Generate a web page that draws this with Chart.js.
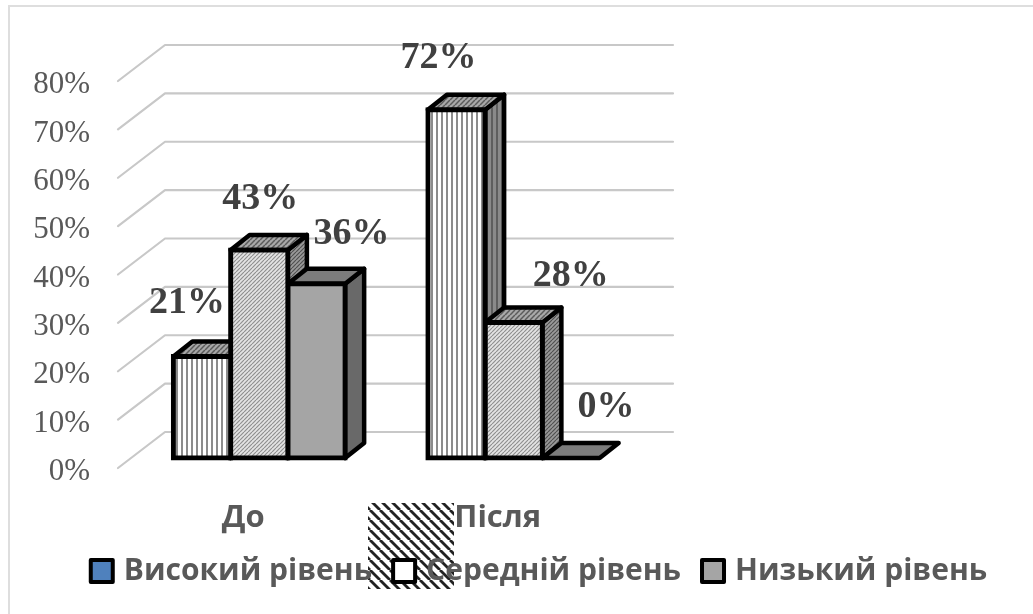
<!DOCTYPE html>
<html lang="uk">
<head>
<meta charset="utf-8">
<title>Рівні до і після</title>
<script src="https://cdn.jsdelivr.net/npm/chart.js@4/dist/chart.umd.js"></script>
<style>
  html, body { margin: 0; padding: 0; background: #fff; }
  #wrap { width: 1033px; height: 614px; }
</style>
</head>
<body>
<div id="wrap"><canvas id="chart" width="1033" height="614"></canvas></div>
<script>
// Chart values
const categories = ['До', 'Після'];
const seriesNames = ['Високий рівень', 'Середній рівень', 'Низький рівень'];
const highValues = [21, 72];
const middleValues = [43, 28];
const lowValues = [36, 0];
const swatchColors = ['#4f81bd', '#ffffff', '#a5a5a5'];

// Small repeating tiles used as bar fills
function tile(w, h, paint) {
  const c = document.createElement('canvas');
  c.width = w; c.height = h;
  paint(c.getContext('2d'), w, h);
  return c.getContext('2d').createPattern(c, 'repeat');
}
function verticalStripes(bg, ink) {
  return tile(5, 5, (g, w, h) => {
    g.fillStyle = bg; g.fillRect(0, 0, w, h);
    g.fillStyle = ink; g.fillRect(1, 0, 2, h);
  });
}
function slantStripes(bg, ink, size, width, down) {
  return tile(size, size, (g, w, h) => {
    g.fillStyle = bg; g.fillRect(0, 0, w, h);
    g.strokeStyle = ink; g.lineWidth = width;
    for (let i = -w; i <= 2 * w; i += w) {
      g.beginPath();
      if (down) { g.moveTo(i, 0); g.lineTo(i + h, h); }
      else { g.moveTo(i + h, 0); g.lineTo(i, h); }
      g.stroke();
    }
  });
}

const frontFills = [
  verticalStripes('#ffffff', '#8c8c8c'),
  slantStripes('#e4e4e4', '#8f8f8f', 4, 1.2, false),
  '#a5a5a5'
];
const sideFills = [
  verticalStripes('#8a8a8a', '#5e5e5e'),
  slantStripes('#9a9a9a', '#505050', 4, 1.2, false),
  '#696969'
];
const topFills = [
  slantStripes('#a8a8a8', '#5a5a5a', 5, 1.5, false),
  slantStripes('#a8a8a8', '#5a5a5a', 5, 1.5, false),
  '#7c7c7c'
];

const depth = { dx: 19, dy: 15 };
const wall = { left: 118, back: 165, right: 673, rise: 26, drop: 10 };
// Value label displacement from the top centre of each bar, per series and category
const labelShift = [
  [[-15, -53], [-18, -52]],
  [[1, -51], [57, -46]],
  [[35, -50], [35, -51]]
];

const depthPlugin = {
  id: 'depthPlugin',
  beforeDraw(chart) {
    const { ctx, scales: { y } } = chart;
    ctx.save();
    // Panel edge
    ctx.fillStyle = '#dedede';
    ctx.fillRect(8, 5, 1025, 2);
    ctx.fillRect(8, 5, 2, 609);

    // Large hatched tile behind the legend
    ctx.fillStyle = slantStripes('#ffffff', '#222222', 10, 2.8, true);
    ctx.fillRect(368, 503, 86, 86);

    // Back wall grid lines with their floor returns
    ctx.strokeStyle = '#c8c8c8';
    ctx.lineWidth = 2.2;
    ctx.lineCap = 'round';
    ctx.lineJoin = 'round';
    y.ticks.forEach(t => {
      const p = y.getPixelForValue(t.value);
      ctx.beginPath();
      ctx.moveTo(wall.left, p + wall.drop);
      ctx.lineTo(wall.back, p - wall.rise);
      ctx.lineTo(wall.right, p - wall.rise);
      ctx.stroke();
    });
    ctx.restore();
  },
  beforeDatasetsDraw(chart) {
    const { ctx } = chart;
    ctx.save();
    ctx.strokeStyle = '#000';
    ctx.lineWidth = 4.5;
    ctx.lineJoin = 'round';
    // Side and top faces are painted left to right so nearer bars cover farther ones
    const n = chart.data.labels.length;
    for (let c = 0; c < n; c++) {
      chart.data.datasets.forEach((ds, d) => {
        const bar = chart.getDatasetMeta(d).data[c];
        const x1 = bar.x + bar.width / 2;
        const x0 = bar.x - bar.width / 2;
        const top = bar.y, base = bar.base;
        if (base - top > 0) {
          ctx.beginPath();
          ctx.moveTo(x1, top);
          ctx.lineTo(x1 + depth.dx, top - depth.dy);
          ctx.lineTo(x1 + depth.dx, base - depth.dy);
          ctx.lineTo(x1, base);
          ctx.closePath();
          ctx.fillStyle = sideFills[d];
          ctx.fill();
          ctx.stroke();
        }
        ctx.beginPath();
        ctx.moveTo(x0, top);
        ctx.lineTo(x0 + depth.dx, top - depth.dy);
        ctx.lineTo(x1 + depth.dx, top - depth.dy);
        ctx.lineTo(x1, top);
        ctx.closePath();
        ctx.fillStyle = topFills[d];
        ctx.fill();
        ctx.stroke();
      });
    }
    ctx.restore();
  },
  afterDatasetsDraw(chart) {
    const { ctx } = chart;
    ctx.save();
    ctx.font = 'bold 38px "Liberation Serif"';
    ctx.fillStyle = '#404040';
    ctx.textAlign = 'center';
    ctx.textBaseline = 'middle';
    chart.data.datasets.forEach((ds, d) => {
      chart.getDatasetMeta(d).data.forEach((bar, c) => {
        const [sx, sy] = labelShift[d][c];
        ctx.fillText(ds.data[c] + '%', bar.x + sx, bar.y + sy);
      });
    });
    ctx.restore();
  },
  afterDraw(chart) {
    // Legend swatches, wider than the gap the legend leaves before its text
    const { ctx, legend } = chart;
    ctx.save();
    ctx.lineWidth = 4;
    ctx.strokeStyle = '#000';
    ctx.lineJoin = 'round';
    legend.legendHitBoxes.forEach((h, i) => {
      const top = h.top + h.height / 2 - 11;
      ctx.fillStyle = swatchColors[i];
      ctx.beginPath();
      ctx.rect(h.left - 1, top, 22, 22);
      ctx.fill();
      ctx.stroke();
    });
    ctx.restore();
  }
};

// The legend row sits right of the panel centre
const legendShift = {
  id: 'legendShift',
  afterLayout(chart) {
    chart.legend.left += 23;
    chart.legend.right += 23;
  }
};

const allValues = [highValues, middleValues, lowValues];
new Chart(document.getElementById('chart'), {
  type: 'bar',
  data: {
    labels: categories,
    datasets: seriesNames.map((name, i) => ({
      label: name,
      data: allValues[i],
      backgroundColor: frontFills[i],
      borderColor: '#000000',
      borderWidth: 5,
      borderSkipped: false,
      inflateAmount: 2.5,
      clip: false,
      categoryPercentage: 0.675,
      barPercentage: 1
    }))
  },
  options: {
    responsive: false,
    animation: false,
    layout: { padding: { top: 71, bottom: 18, left: 0, right: 0 } },
    plugins: {
      tooltip: { enabled: false },
      legend: {
        position: 'bottom',
        labels: {
          boxWidth: 17,
          boxHeight: 17,
          padding: 22,
          color: '#595959',
          font: { family: '"Open Sans"', weight: 'bold', size: 30 },
          generateLabels(chart) {
            return chart.data.datasets.map((ds, i) => ({
              text: ds.label,
              fillStyle: 'rgba(0,0,0,0)',
              strokeStyle: 'rgba(0,0,0,0)',
              lineWidth: 0,
              fontColor: '#595959',
              datasetIndex: i
            }));
          }
        }
      }
    },
    scales: {
      x: {
        grid: { display: false, drawTicks: false },
        border: { display: false },
        ticks: {
          color: '#595959',
          labelOffset: -16,
          padding: 42,
          maxRotation: 0,
          font: { family: '"Open Sans"', weight: 'bold', size: 31 }
        },
        afterFit(s) { s.height = 76; }
      },
      y: {
        min: 0,
        max: 80,
        grid: { display: false, drawTicks: false },
        border: { display: false },
        ticks: {
          stepSize: 10,
          padding: 42,
          labelOffset: 14,
          color: '#595959',
          font: { family: '"Liberation Serif"', size: 31 },
          callback: v => v + '%'
        },
        afterFit(s) { s.width = 132; }
      },
      // Empty right-hand gutter keeps the plot clear of the panel's right part
      gutter: {
        axis: 'y',
        type: 'linear',
        position: 'right',
        grid: { display: false, drawTicks: false },
        border: { display: false },
        ticks: { display: false },
        afterFit(s) { s.width = 392; }
      }
    }
  },
  plugins: [depthPlugin, legendShift]
});
</script>
</body>
</html>
